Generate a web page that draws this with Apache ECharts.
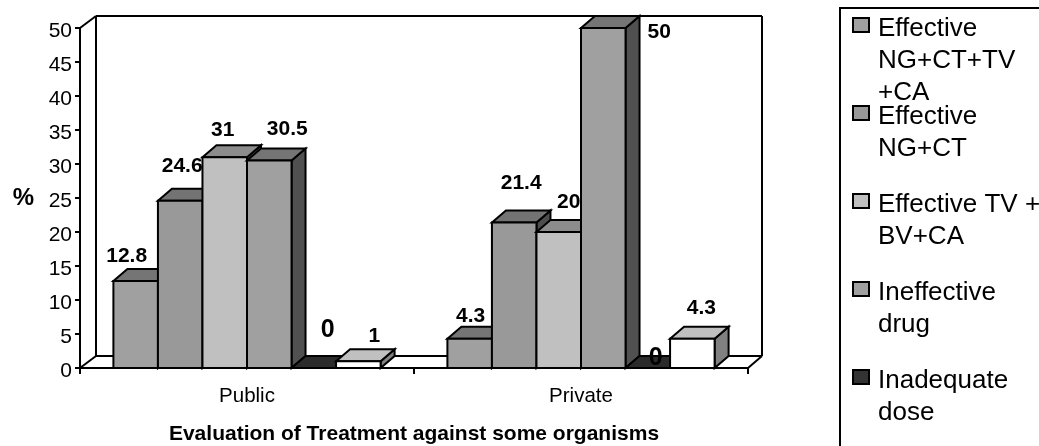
<!DOCTYPE html>
<html><head><meta charset="utf-8">
<style>html,body{margin:0;padding:0;background:#fff;overflow:hidden}#c{width:1039px;height:446px}</style>
<script src="https://cdn.jsdelivr.net/npm/echarts@6/dist/echarts.min.js"></script>
</head><body><div id="c"></div>
<script>
const categories = ['Public', 'Private'];
const effectiveAll = [12.8, 4.3];
const effectiveNgCt = [24.6, 21.4];
const effectiveTvBvCa = [31, 20];
const ineffectiveDrug = [30.5, 50];
const inadequateDose = [0, 0];
const lastSeries = [1, 4.3];
const yTicks = [0, 50, 5];

const legendLabels = ['Effective\nNG+CT+TV\n+CA', 'Effective\nNG+CT\n ', 'Effective TV +\nBV+CA\n ', 'Ineffective\ndrug\n ', 'Inadequate\ndose\n '];
const seriesNames = ['Effective NG+CT+TV +CA', 'Effective NG+CT', 'Effective TV + BV+CA', 'Ineffective drug', 'Inadequate dose', 'Other'];
const seriesValues = [effectiveAll, effectiveNgCt, effectiveTvBvCa, ineffectiveDrug, inadequateDose, lastSeries];

// [front, top, side]
const shades = [
  ['#a0a0a0', '#757575', '#505050'],
  ['#999999', '#737373', '#4d4d4d'],
  ['#c0c0c0', '#8c8c8c', '#5c5c5c'],
  ['#a0a0a0', '#757575', '#505050'],
  ['#333333', '#2b2b2b', '#1e1e1e'],
  ['#ffffff', '#c0c0c0', '#808080']
];
// hand-placed label offsets from the top-centre of each bar: [dx, dy, fontSize]
const labelPlacement = [
  [[-9, -25, 21], [1, -23, 21]],
  [[2, -35, 21], [7, -39, 21]],
  [[-2, -27, 21], [10, -30, 21]],
  [[18, -31, 21], [56, 4, 21]],
  [[14, -38, 25], [8, -10, 25]],
  [[16, -25, 21], [9, -31, 21]]
];
const depthX = 14, depthY = 12, wallLeft = 16, wallRight = 14, wallY = 12;
const stroke = '#000', lw = 2;
const font = '"Liberation Sans", Arial, sans-serif';

function frameItem(params, api) {
  const band = api.size([1, 0])[0];
  const x0 = api.coord([0, 0])[0] - band / 2;
  const x1 = api.coord([1, 0])[0] + band / 2;
  const y0 = api.coord([0, 0])[1];
  const y1 = api.coord([0, 50])[1];
  const line = (a, b, c, d) => ({ type: 'line', shape: { x1: a, y1: b, x2: c, y2: d }, style: { stroke, lineWidth: lw, fill: null } });
  return { type: 'group', children: [
    line(x0, y1, x0 + wallLeft, y1 - wallY),
    line(x0 + wallLeft, y1 - wallY, x0 + wallLeft, y0 - wallY),
    line(x0, y0, x0 + wallLeft, y0 - wallY),
    line(x0 + wallLeft, y1 - wallY, x1 + wallRight, y1 - wallY),
    line(x0 + wallLeft, y0 - wallY, x1 + wallRight, y0 - wallY),
    line(x1, y0, x1 + wallRight, y0 - wallY),
    line(x1 + wallRight, y1 - wallY, x1 + wallRight, y0 - wallY)
  ]};
}

function barItem(sIdx) {
  return function (params, api) {
    const c = api.value(0), v = api.value(1);
    const band = api.size([1, 0])[0];
    const w = band * 0.8 / 6;
    const groupLeft = api.coord([c, 0])[0] - w * 3;
    const x = groupLeft + w * sIdx;
    const y0 = api.coord([c, 0])[1];
    const y = api.coord([c, v])[1];
    const s = shades[sIdx];
    const poly = (pts, fill) => ({ type: 'polygon', shape: { points: pts }, style: { fill, stroke, lineWidth: lw, lineJoin: 'miter' } });
    const p = labelPlacement[sIdx][c];
    return { type: 'group', children: [
      poly([[x + w, y], [x + w + depthX, y - depthY], [x + w + depthX, y0 - depthY], [x + w, y0]], s[2]),
      poly([[x, y], [x + depthX, y - depthY], [x + w + depthX, y - depthY], [x + w, y]], s[1]),
      poly([[x, y], [x + w, y], [x + w, y0], [x, y0]], s[0]),
      { type: 'text', z2: 10, style: { text: String(v), x: x + w / 2 + p[0], y: y + p[1], align: 'center', verticalAlign: 'middle', fill: '#000', font: 'bold ' + p[2] + 'px ' + font } }
    ]};
  };
}

const series = [{
  type: 'custom', name: 'frame', silent: true, z: 1, renderItem: frameItem,
  encode: { x: 0, y: 1 }, data: [[0, 0]], clip: false
}].concat(seriesValues.map((vals, i) => ({
  type: 'custom', name: seriesNames[i], renderItem: barItem(i), z: 2 + i, clip: false,
  encode: { x: 0, y: 1 }, itemStyle: { color: shades[i][0], borderColor: '#000', borderWidth: 2 },
  data: vals.map((v, c) => [c, v])
})));

const chart = echarts.init(document.getElementById('c'), null, { renderer: 'canvas' });
chart.setOption({
  animation: false,
  backgroundColor: '#fff',
  textStyle: { fontFamily: font },
  grid: { left: 80, right: 291, top: 28, bottom: 78, containLabel: false, outerBoundsMode: 'none' },
  xAxis: {
    type: 'category', data: categories,
    name: 'Evaluation of Treatment against some organisms', nameLocation: 'middle', nameGap: 56,
    nameTextStyle: { fontFamily: font, fontWeight: 'bold', fontSize: 21, color: '#000' },
    axisLine: { lineStyle: { color: '#000', width: 2 } },
    axisTick: { show: true, alignWithLabel: false, length: 6, lineStyle: { color: '#000', width: 2 } },
    axisLabel: { color: '#000', fontFamily: font, fontSize: 20.5, margin: 18 },
    splitLine: { show: false }
  },
  yAxis: {
    type: 'value', min: yTicks[0], max: yTicks[1], interval: yTicks[2],
    name: '%', nameLocation: 'middle', nameGap: 46, nameRotate: 0,
    nameTextStyle: { fontFamily: font, fontWeight: 'bold', fontSize: 24, color: '#000' },
    axisLine: { show: true, lineStyle: { color: '#000', width: 2 } },
    axisTick: { show: true, length: 5, lineStyle: { color: '#000', width: 2 } },
    axisLabel: { color: '#000', fontFamily: font, fontSize: 21, margin: 8, verticalAlign: 'top', lineHeight: 6 },
    splitLine: { show: false }
  },
  legend: {
    orient: 'vertical', left: 840, top: 8, width: 400, height: 1000, padding: [4, 12, 3, 12],
    itemGap: -10, itemWidth: 20, itemHeight: 96,
    icon: 'path://M0,5H16V19H0Z M20,96L20,96 M0,0L0,0',
    borderColor: '#000', borderWidth: 2, backgroundColor: '#fff',
    data: seriesNames.slice(0, 5).map((name) => ({ name })),
    formatter: (name) => legendLabels[seriesNames.indexOf(name)],
    selectedMode: false,
    textStyle: { fontFamily: font, fontSize: 26, lineHeight: 32, color: '#000' }
  },
  series
});
</script></body></html>
